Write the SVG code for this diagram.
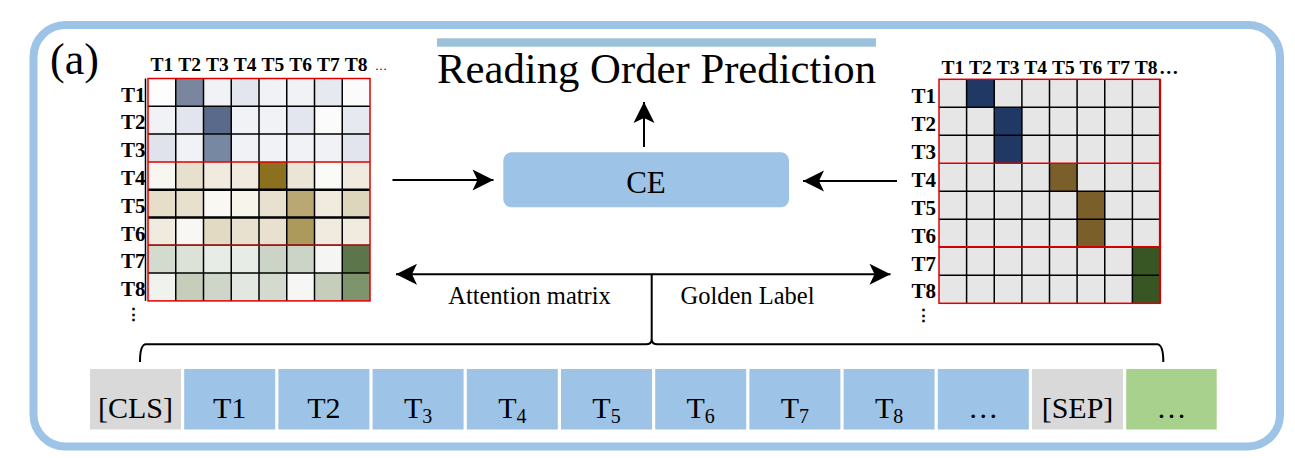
<svg xmlns="http://www.w3.org/2000/svg" width="1295" height="458" viewBox="0 0 1295 458">
<defs>
<marker id="ah" markerUnits="userSpaceOnUse" markerWidth="24" markerHeight="24" viewBox="-22 -12 24 24" refX="0" refY="0" orient="auto">
<path d="M0,0 L-21,-10.5 L-16,0 L-21,10.5 Z" fill="#000"/>
</marker>
<marker id="ahs" markerUnits="userSpaceOnUse" markerWidth="24" markerHeight="24" viewBox="-22 -12 24 24" refX="0" refY="0" orient="auto-start-reverse">
<path d="M0,0 L-21,-10.5 L-16,0 L-21,10.5 Z" fill="#000"/>
</marker>
</defs>
<style>
.serif{font-family:"Liberation Serif","Times New Roman",serif;fill:#000}
.hdr{font-family:"Liberation Serif","Times New Roman",serif;font-weight:bold;font-size:19.5px;text-anchor:middle}
.row{font-family:"Liberation Serif","Times New Roman",serif;font-weight:bold;font-size:21px;text-anchor:end}
.tok{font-family:"Liberation Serif","Times New Roman",serif;font-size:30px;text-anchor:middle}
.sub{font-size:20px}
.vdots{font-family:"DejaVu Serif",serif;font-weight:bold;font-size:17px;text-anchor:middle}
.grid{fill:none;stroke:#000;stroke-width:1.5}
.red{fill:none;stroke:#e00000;stroke-width:1.5}
.conn{fill:none;stroke:#000;stroke-width:2}
.blue{fill:#9dc3e6}
.gray{fill:#d9d9d9}
.green{fill:#a9d18e}
</style>
<rect x="0" y="0" width="1295" height="458" fill="#fff"/>
<g id="frame">
<rect x="33.5" y="25" width="1246.5" height="421.5" rx="32" ry="32" fill="none" stroke="#9dc3e6" stroke-width="8"/>
<text class="serif" x="50" y="74" font-size="44">(a)</text>
</g>
<g id="title">
<rect x="437" y="38.3" width="439" height="8.4" fill="#9bc2da"/>
<text class="serif" x="437" y="82.7" font-size="42.5" textLength="439" lengthAdjust="spacingAndGlyphs">Reading Order Prediction</text>
</g>
<g id="ce">
<rect x="503.3" y="152.3" width="285.7" height="55" rx="8" ry="8" class="blue"/>
<text class="serif" x="646" y="192.5" font-size="31" text-anchor="middle">CE</text>
</g>
<g id="attention-matrix">
<g>
<rect x="148" y="78.5" width="27.75" height="27.8" fill="#fdfdfd"/>
<rect x="175.75" y="78.5" width="27.75" height="27.8" fill="#7a869e"/>
<rect x="203.5" y="78.5" width="27.75" height="27.8" fill="#f1f2f6"/>
<rect x="231.25" y="78.5" width="27.75" height="27.8" fill="#e3e6ee"/>
<rect x="259" y="78.5" width="27.75" height="27.8" fill="#f1f2f6"/>
<rect x="286.75" y="78.5" width="27.75" height="27.8" fill="#f1f2f6"/>
<rect x="314.5" y="78.5" width="27.75" height="27.8" fill="#e7e9f0"/>
<rect x="342.25" y="78.5" width="27.75" height="27.8" fill="#fbfbfc"/>
<rect x="148" y="106.3" width="27.75" height="27.8" fill="#f1f2f6"/>
<rect x="175.75" y="106.3" width="27.75" height="27.8" fill="#e2e5ed"/>
<rect x="203.5" y="106.3" width="27.75" height="27.8" fill="#5a6a8a"/>
<rect x="231.25" y="106.3" width="27.75" height="27.8" fill="#f1f2f6"/>
<rect x="259" y="106.3" width="27.75" height="27.8" fill="#f1f2f6"/>
<rect x="286.75" y="106.3" width="27.75" height="27.8" fill="#e3e6ee"/>
<rect x="314.5" y="106.3" width="27.75" height="27.8" fill="#fbfbfc"/>
<rect x="342.25" y="106.3" width="27.75" height="27.8" fill="#e7e9f0"/>
<rect x="148" y="134.1" width="27.75" height="27.8" fill="#e0e3ec"/>
<rect x="175.75" y="134.1" width="27.75" height="27.8" fill="#f1f2f6"/>
<rect x="203.5" y="134.1" width="27.75" height="27.8" fill="#7788a2"/>
<rect x="231.25" y="134.1" width="27.75" height="27.8" fill="#f1f2f6"/>
<rect x="259" y="134.1" width="27.75" height="27.8" fill="#f1f2f6"/>
<rect x="286.75" y="134.1" width="27.75" height="27.8" fill="#f1f2f6"/>
<rect x="314.5" y="134.1" width="27.75" height="27.8" fill="#f1f2f6"/>
<rect x="342.25" y="134.1" width="27.75" height="27.8" fill="#e2e5ed"/>
<rect x="148" y="161.9" width="27.75" height="27.8" fill="#f8f6f0"/>
<rect x="175.75" y="161.9" width="27.75" height="27.8" fill="#e7e0cc"/>
<rect x="203.5" y="161.9" width="27.75" height="27.8" fill="#f0ebde"/>
<rect x="231.25" y="161.9" width="27.75" height="27.8" fill="#f0ebde"/>
<rect x="259" y="161.9" width="27.75" height="27.8" fill="#8b7020"/>
<rect x="286.75" y="161.9" width="27.75" height="27.8" fill="#ebe5d5"/>
<rect x="314.5" y="161.9" width="27.75" height="27.8" fill="#fafaf6"/>
<rect x="342.25" y="161.9" width="27.75" height="27.8" fill="#f0ebde"/>
<rect x="148" y="189.7" width="27.75" height="27.8" fill="#e6dec9"/>
<rect x="175.75" y="189.7" width="27.75" height="27.8" fill="#e7e0cc"/>
<rect x="203.5" y="189.7" width="27.75" height="27.8" fill="#faf8f3"/>
<rect x="231.25" y="189.7" width="27.75" height="27.8" fill="#f7f4ec"/>
<rect x="259" y="189.7" width="27.75" height="27.8" fill="#e8e1cf"/>
<rect x="286.75" y="189.7" width="27.75" height="27.8" fill="#b9a774"/>
<rect x="314.5" y="189.7" width="27.75" height="27.8" fill="#f0ebde"/>
<rect x="342.25" y="189.7" width="27.75" height="27.8" fill="#ded5bd"/>
<rect x="148" y="217.5" width="27.75" height="27.8" fill="#f0ebde"/>
<rect x="175.75" y="217.5" width="27.75" height="27.8" fill="#f8f7f3"/>
<rect x="203.5" y="217.5" width="27.75" height="27.8" fill="#e2dac3"/>
<rect x="231.25" y="217.5" width="27.75" height="27.8" fill="#e8e1cf"/>
<rect x="259" y="217.5" width="27.75" height="27.8" fill="#e8e1cf"/>
<rect x="286.75" y="217.5" width="27.75" height="27.8" fill="#ac9a5c"/>
<rect x="314.5" y="217.5" width="27.75" height="27.8" fill="#f0ebde"/>
<rect x="342.25" y="217.5" width="27.75" height="27.8" fill="#f0ebde"/>
<rect x="148" y="245.3" width="27.75" height="27.8" fill="#d3dace"/>
<rect x="175.75" y="245.3" width="27.75" height="27.8" fill="#dde2d9"/>
<rect x="203.5" y="245.3" width="27.75" height="27.8" fill="#e8ece6"/>
<rect x="231.25" y="245.3" width="27.75" height="27.8" fill="#e8ece6"/>
<rect x="259" y="245.3" width="27.75" height="27.8" fill="#ccd4c7"/>
<rect x="286.75" y="245.3" width="27.75" height="27.8" fill="#ccd4c7"/>
<rect x="314.5" y="245.3" width="27.75" height="27.8" fill="#f5f6f4"/>
<rect x="342.25" y="245.3" width="27.75" height="27.8" fill="#5d754a"/>
<rect x="148" y="273.1" width="27.75" height="27.8" fill="#f0f2ee"/>
<rect x="175.75" y="273.1" width="27.75" height="27.8" fill="#c5cdbb"/>
<rect x="203.5" y="273.1" width="27.75" height="27.8" fill="#ced6ca"/>
<rect x="231.25" y="273.1" width="27.75" height="27.8" fill="#e3e7e1"/>
<rect x="259" y="273.1" width="27.75" height="27.8" fill="#d3dace"/>
<rect x="286.75" y="273.1" width="27.75" height="27.8" fill="#f6f7f5"/>
<rect x="314.5" y="273.1" width="27.75" height="27.8" fill="#c5cdbb"/>
<rect x="342.25" y="273.1" width="27.75" height="27.8" fill="#7e946d"/>
</g>
<path class="grid" d="M175.75,78.5V300.9M203.5,78.5V300.9M231.25,78.5V300.9M259,78.5V300.9M286.75,78.5V300.9M314.5,78.5V300.9M342.25,78.5V300.9M148,106.3H370M148,134.1H370M148,245.3H370M148,273.1H370"/>
<path d="M148,189.7H370M148,217.5H370" fill="none" stroke="#000" stroke-width="2.6"/>
<path d="M145.5,78.5V300.9" fill="none" stroke="#000" stroke-width="1.5"/>
<rect x="148" y="78.5" width="222" height="222.4" class="red"/>
<path class="red" d="M148,161.9H370M148,245.3H370"/>
<text class="hdr" x="161.9" y="71">T1</text>
<text class="hdr" x="189.6" y="71">T2</text>
<text class="hdr" x="217.4" y="71">T3</text>
<text class="hdr" x="245.1" y="71">T4</text>
<text class="hdr" x="272.9" y="71">T5</text>
<text class="hdr" x="300.6" y="71">T6</text>
<text class="hdr" x="328.4" y="71">T7</text>
<text class="hdr" x="356.1" y="71">T8</text>
<text class="serif" x="375" y="70" font-size="12">…</text>
<text class="row" x="145.5" y="101.5">T1</text>
<text class="row" x="145.5" y="129.3">T2</text>
<text class="row" x="145.5" y="157.1">T3</text>
<text class="row" x="145.5" y="184.9">T4</text>
<text class="row" x="145.5" y="212.7">T5</text>
<text class="row" x="145.5" y="240.5">T6</text>
<text class="row" x="145.5" y="268.3">T7</text>
<text class="row" x="145.5" y="296.3">T8</text>
<text class="vdots" x="133" y="320">⋮</text>
</g>
<g id="golden-label-matrix">
<rect x="939" y="79.3" width="221" height="224" fill="#e7e6e6"/>
<rect x="966.6" y="79.3" width="27.65" height="28" fill="#1f3864"/>
<rect x="994.25" y="107.3" width="27.65" height="28" fill="#1f3864"/>
<rect x="994.25" y="135.3" width="27.65" height="28" fill="#1f3864"/>
<rect x="1049.5" y="163.3" width="27.6" height="28" fill="#7b5f2a"/>
<rect x="1077.1" y="191.3" width="27.65" height="28" fill="#7b5f2a"/>
<rect x="1077.1" y="219.3" width="27.65" height="28" fill="#7b5f2a"/>
<rect x="1132.4" y="247.3" width="27.6" height="28" fill="#375623"/>
<rect x="1132.4" y="275.3" width="27.6" height="28" fill="#375623"/>
<path class="grid" d="M966.6,79.3V303.3M994.25,79.3V303.3M1021.9,79.3V303.3M1049.5,79.3V303.3M1077.1,79.3V303.3M1104.75,79.3V303.3M1132.4,79.3V303.3M939,107.3H1160M939,135.3H1160M939,191.3H1160M939,219.3H1160M939,275.3H1160"/>
<rect x="939" y="79.3" width="221" height="224" class="red"/>
<path class="red" d="M939,163.3H1160"/>
<path d="M939,247H1160M1160,79.3V303.3" fill="none" stroke="#d00000" stroke-width="2.2"/>
<text class="hdr" x="952.8" y="74.3">T1</text>
<text class="hdr" x="980.4" y="74.3">T2</text>
<text class="hdr" x="1008.1" y="74.3">T3</text>
<text class="hdr" x="1035.7" y="74.3">T4</text>
<text class="hdr" x="1063.3" y="74.3">T5</text>
<text class="hdr" x="1090.9" y="74.3">T6</text>
<text class="hdr" x="1118.6" y="74.3">T7</text>
<text class="hdr" x="1146.2" y="74.3">T8</text>
<text class="hdr" x="1159" y="74.3" style="text-anchor:start">…</text>
<text class="row" x="936" y="102.8">T1</text>
<text class="row" x="936" y="130.8">T2</text>
<text class="row" x="936" y="158.8">T3</text>
<text class="row" x="936" y="186.8">T4</text>
<text class="row" x="936" y="214.8">T5</text>
<text class="row" x="936" y="242.8">T6</text>
<text class="row" x="936" y="270.8">T7</text>
<text class="row" x="936" y="298.3">T8</text>
<text class="vdots" x="923" y="321">⋮</text>
</g>
<g id="tokens">
<g id="tok-cls"><rect x="90" y="369" width="91" height="60.5" class="gray"/><text class="tok" x="135.5" y="418">[CLS]</text></g>
<g id="tok-t1"><rect x="184.2" y="369" width="91" height="60.5" class="blue"/><text class="tok" x="229.7" y="418">T1</text></g>
<g id="tok-t2"><rect x="278.4" y="369" width="91" height="60.5" class="blue"/><text class="tok" x="323.9" y="418">T2</text></g>
<g id="tok-t3"><rect x="372.6" y="369" width="91" height="60.5" class="blue"/><text class="tok" x="418.1" y="418">T<tspan class="sub" dy="5">3</tspan></text></g>
<g id="tok-t4"><rect x="466.8" y="369" width="91" height="60.5" class="blue"/><text class="tok" x="512.3" y="418">T<tspan class="sub" dy="5">4</tspan></text></g>
<g id="tok-t5"><rect x="561" y="369" width="91" height="60.5" class="blue"/><text class="tok" x="606.5" y="418">T<tspan class="sub" dy="5">5</tspan></text></g>
<g id="tok-t6"><rect x="655.2" y="369" width="91" height="60.5" class="blue"/><text class="tok" x="700.7" y="418">T<tspan class="sub" dy="5">6</tspan></text></g>
<g id="tok-t7"><rect x="749.4" y="369" width="91" height="60.5" class="blue"/><text class="tok" x="794.9" y="418">T<tspan class="sub" dy="5">7</tspan></text></g>
<g id="tok-t8"><rect x="843.6" y="369" width="91" height="60.5" class="blue"/><text class="tok" x="889.1" y="418">T<tspan class="sub" dy="5">8</tspan></text></g>
<g id="tok-dots"><rect x="937.8" y="369" width="91" height="60.5" class="blue"/><text class="tok" x="983.3" y="418">…</text></g>
<g id="tok-sep"><rect x="1032" y="369" width="91" height="60.5" class="gray"/><text class="tok" x="1077.5" y="418">[SEP]</text></g>
<g id="tok-more"><rect x="1126.2" y="369" width="90.5" height="60.5" class="green"/><text class="tok" x="1171.5" y="418">…</text></g>
</g>
<g id="connectors">
<line class="conn" x1="644" y1="147" x2="644" y2="102" marker-end="url(#ah)"/>
<line class="conn" x1="392.5" y1="180" x2="493.5" y2="180" marker-end="url(#ah)"/>
<line class="conn" x1="897" y1="181" x2="803" y2="181" marker-end="url(#ah)"/>
<line class="conn" x1="396" y1="274.3" x2="890.5" y2="274.3" marker-start="url(#ahs)" marker-end="url(#ahs)"/>
<line class="conn" x1="651.7" y1="274.3" x2="651.7" y2="339"/>
<path class="conn" d="M140,362 Q140,344.3 146,344.3 L646,344.3 Q651.7,344.3 651.7,339 Q651.7,344.3 657.4,344.3 L1157,344.3 Q1163.3,344.3 1163.3,362"/>
<text class="serif" x="529.5" y="304" font-size="24.5" text-anchor="middle">Attention matrix</text>
<text class="serif" x="747.5" y="304" font-size="24.5" text-anchor="middle">Golden Label</text>
</g>
</svg>
